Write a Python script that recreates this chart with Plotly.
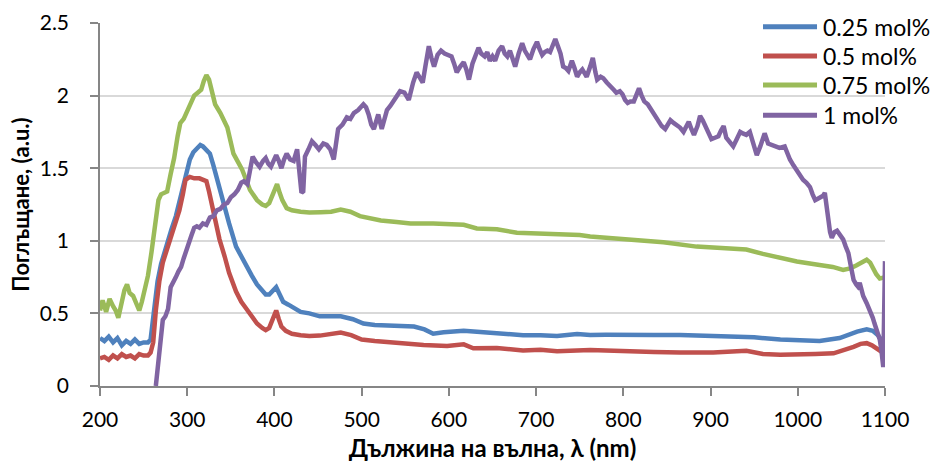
import plotly.graph_objects as go

# Absorption spectra for four dopant concentrations
series_names = ["0.25 mol%", "0.5 mol%", "0.75 mol%", "1 mol%"]
series_colors = ["#4F81BD", "#C0504D", "#9BBB59", "#8064A2"]

wl_025 = [200, 205, 210, 215, 220, 225, 230, 235, 240, 245, 250, 255, 258, 262, 266, 270, 276, 282,
          287, 291, 295, 299, 303, 307, 311, 315, 318, 322, 326, 330, 334, 338, 342, 348, 356, 362,
          368, 374, 380, 386, 390, 394, 398, 402, 406, 410, 416, 422, 430, 440, 452, 465, 476, 490,
          502, 515, 533, 550, 560, 572, 582, 594, 605, 617, 636, 659, 685, 705, 724, 747, 762, 780,
          808, 835, 865, 895, 922, 950, 980, 1000, 1025, 1048, 1060, 1068, 1079, 1086, 1092, 1096, 1100]
abs_025 = [0.33, 0.31, 0.34, 0.30, 0.33, 0.28, 0.31, 0.29, 0.32, 0.29, 0.30, 0.30, 0.32, 0.55, 0.72,
           0.84, 0.97, 1.08, 1.17, 1.26, 1.37, 1.47, 1.56, 1.61, 1.63, 1.66, 1.65, 1.63, 1.60, 1.52,
           1.43, 1.33, 1.25, 1.12, 0.96, 0.89, 0.82, 0.76, 0.70, 0.66, 0.63, 0.63, 0.66, 0.68, 0.63,
           0.58, 0.56, 0.54, 0.51, 0.50, 0.48, 0.48, 0.48, 0.46, 0.43, 0.42, 0.415, 0.41, 0.41, 0.39,
           0.36, 0.37, 0.375, 0.38, 0.372, 0.363, 0.35, 0.35, 0.345, 0.358, 0.352, 0.353, 0.356,
           0.352, 0.352, 0.345, 0.34, 0.335, 0.32, 0.315, 0.31, 0.33, 0.36, 0.375, 0.39, 0.38, 0.35,
           0.32, 0.28]

wl_05 = [200, 205, 210, 215, 220, 225, 230, 235, 240, 245, 250, 255, 258, 261, 264, 268, 272, 276,
         283, 291, 295, 298, 303, 308, 314, 318, 322, 325, 331, 337, 343, 348, 356, 362, 368, 374,
         380, 386, 390, 394, 398, 402, 405, 408, 413, 420, 430, 440, 452, 465, 476, 488, 500, 515,
         533, 550, 571, 598, 617, 628, 655, 685, 705, 724, 745, 762, 780, 808, 835, 865, 903, 941,
         960, 980, 999, 1020, 1041, 1055, 1064, 1072, 1079, 1085, 1090, 1096, 1100]
abs_05 = [0.19, 0.20, 0.18, 0.21, 0.19, 0.22, 0.20, 0.21, 0.19, 0.22, 0.21, 0.21, 0.23, 0.30, 0.52,
          0.72, 0.85, 0.93, 1.07, 1.21, 1.32, 1.42, 1.44, 1.43, 1.43, 1.42, 1.41, 1.34, 1.17, 1.01,
          0.89, 0.78, 0.65, 0.58, 0.53, 0.48, 0.43, 0.40, 0.385, 0.40, 0.47, 0.52, 0.46, 0.41, 0.38,
          0.36, 0.35, 0.345, 0.347, 0.36, 0.368, 0.35, 0.32, 0.31, 0.30, 0.29, 0.283, 0.276, 0.287,
          0.26, 0.262, 0.245, 0.25, 0.24, 0.247, 0.248, 0.245, 0.237, 0.235, 0.23, 0.23, 0.243,
          0.22, 0.215, 0.214, 0.22, 0.225, 0.25, 0.27, 0.29, 0.295, 0.28, 0.26, 0.24, 0.22]

wl_075 = [200, 203, 207, 211, 215, 218, 221, 224, 228, 231, 234, 238, 242, 245, 248, 251, 255, 259,
          263, 267, 270, 273, 277, 281, 285, 289, 292, 296, 300, 304, 308, 312, 316, 319, 322, 325,
          328, 332, 338, 346, 353, 363, 372, 380, 386, 390, 394, 398, 403, 406, 409, 414, 420, 430,
          440, 453, 465, 476, 487, 498, 510, 522, 540, 556, 582, 600, 617, 632, 655, 678, 705, 731,
          750, 762, 773, 808, 846, 884, 922, 941, 960, 980, 999, 1025, 1040, 1052, 1060, 1067, 1074,
          1079, 1083, 1086, 1090, 1094, 1100]
abs_075 = [0.52, 0.59, 0.51, 0.60, 0.55, 0.52, 0.47, 0.55, 0.66, 0.70, 0.64, 0.62, 0.57, 0.52, 0.58,
           0.66, 0.76, 0.92, 1.12, 1.28, 1.32, 1.33, 1.34, 1.46, 1.57, 1.72, 1.81, 1.84, 1.90, 1.96,
           2.00, 2.02, 2.04, 2.10, 2.14, 2.11, 2.03, 1.94, 1.88, 1.78, 1.60, 1.49, 1.35, 1.28, 1.25,
           1.24, 1.26, 1.32, 1.39, 1.33, 1.28, 1.225, 1.21, 1.20, 1.195, 1.197, 1.20, 1.215, 1.20,
           1.17, 1.155, 1.14, 1.13, 1.12, 1.12, 1.115, 1.11, 1.085, 1.08, 1.055, 1.05, 1.04, 1.04,
           1.03, 1.025, 1.007, 0.99, 0.96, 0.945, 0.94, 0.91, 0.88, 0.857, 0.834, 0.82, 0.80, 0.81,
           0.83, 0.85, 0.87, 0.85, 0.81, 0.77, 0.74, 0.75]

wl_1 = [264, 266, 268, 270, 272, 275, 278, 281, 284, 287, 290, 293, 296, 299, 302, 305, 308, 311,
        314, 318, 322, 326, 330, 334, 338, 342, 346, 350, 354, 358, 362, 365, 369, 372, 375, 379,
        383, 387, 390, 393, 396, 399, 402, 405, 408, 411, 414, 418, 422, 426, 429, 431, 433, 435,
        439, 443, 447, 451, 456, 460, 464, 468, 473, 478, 483, 487, 491, 496, 502, 505, 508, 511,
        514, 517, 519, 523, 526, 529, 533, 537, 541, 544, 549, 554, 559, 563, 567, 570, 573, 577,
        580, 583, 587, 591, 595, 599, 603, 606, 609, 613, 617, 620, 623, 627, 630, 634, 637, 641,
        644, 647, 650, 653, 657, 661, 664, 667, 670, 673, 676, 680, 684, 687, 690, 693, 697, 701,
        704, 707, 710, 713, 716, 719, 722, 725, 728, 731, 734, 737, 741, 744, 747, 750, 753, 756,
        758, 762, 765, 768, 770, 774, 777, 781, 785, 789, 792, 796, 799, 802, 805, 808, 812, 815,
        818, 821, 824, 828, 831, 834, 837, 840, 844, 848, 851, 854, 858, 861, 865, 869, 872, 875,
        878, 881, 885, 888, 891, 894, 897, 901, 905, 909, 912, 915, 918, 922, 926, 930, 934, 937,
        941, 945, 949, 953, 957, 962, 966, 970, 974, 979, 985, 988, 991, 995, 999, 1003, 1006,
        1010, 1014, 1017, 1020, 1023, 1026, 1029, 1031, 1033, 1035, 1037, 1039, 1042, 1045, 1048,
        1052, 1055, 1058, 1061, 1064, 1067, 1069, 1071, 1073, 1075, 1079, 1083, 1086, 1088, 1091,
        1094, 1096, 1098, 1100]
abs_1 = [0.0, 0.12, 0.25, 0.38, 0.455, 0.48, 0.53, 0.68, 0.71, 0.75, 0.79, 0.82, 0.88, 0.94, 0.99,
         1.04, 1.09, 1.10, 1.09, 1.12, 1.11, 1.16, 1.17, 1.21, 1.22, 1.25, 1.26, 1.30, 1.32, 1.35,
         1.40, 1.41, 1.39, 1.50, 1.58, 1.54, 1.51, 1.55, 1.57, 1.53, 1.51, 1.55, 1.59, 1.55, 1.50,
         1.56, 1.60, 1.56, 1.55, 1.63, 1.40, 1.33, 1.34, 1.58, 1.63, 1.685, 1.66, 1.63, 1.67, 1.66,
         1.63, 1.56, 1.77, 1.80, 1.85, 1.84, 1.88, 1.90, 1.94, 1.92, 1.87, 1.80, 1.77, 1.84, 1.87,
         1.77, 1.84, 1.90, 1.93, 1.97, 2.00, 2.03, 2.02, 1.97, 2.09, 2.16, 2.12, 2.09, 2.20, 2.34,
         2.26, 2.20, 2.28, 2.31, 2.29, 2.28, 2.27, 2.22, 2.16, 2.20, 2.23, 2.18, 2.11, 2.22, 2.27,
         2.33, 2.29, 2.27, 2.30, 2.24, 2.27, 2.24, 2.31, 2.34, 2.29, 2.27, 2.31, 2.26, 2.20, 2.29,
         2.36, 2.31, 2.28, 2.25, 2.32, 2.37, 2.32, 2.28, 2.30, 2.31, 2.30, 2.35, 2.39, 2.34, 2.29,
         2.20, 2.19, 2.17, 2.24, 2.19, 2.13, 2.16, 2.18, 2.15, 2.13, 2.20, 2.26, 2.16, 2.11, 2.13,
         2.12, 2.09, 2.06, 2.04, 2.02, 2.03, 2.01, 1.97, 1.95, 1.96, 1.96, 2.00, 2.05, 2.00, 1.96,
         1.94, 1.91, 1.88, 1.85, 1.82, 1.79, 1.77, 1.80, 1.83, 1.81, 1.80, 1.78, 1.75, 1.79, 1.82,
         1.77, 1.73, 1.79, 1.86, 1.83, 1.79, 1.75, 1.70, 1.71, 1.72, 1.76, 1.79, 1.71, 1.68, 1.65,
         1.70, 1.75, 1.74, 1.73, 1.75, 1.67, 1.59, 1.65, 1.74, 1.67, 1.66, 1.65, 1.64, 1.65, 1.60,
         1.56, 1.52, 1.48, 1.45, 1.42, 1.40, 1.37, 1.32, 1.28, 1.29, 1.30, 1.31, 1.33, 1.22, 1.14,
         1.06, 1.02, 1.06, 1.07, 1.04, 1.01, 0.96, 0.915, 0.82, 0.73, 0.70, 0.685, 0.71, 0.66, 0.62,
         0.57, 0.52, 0.47, 0.43, 0.38, 0.32, 0.24, 0.13, 0.86]

wavelengths = [wl_025, wl_05, wl_075, wl_1]
absorbance = [abs_025, abs_05, abs_075, abs_1]

x_ticks = [200, 300, 400, 500, 600, 700, 800, 900, 1000, 1100]
y_ticks = [0, 0.5, 1, 1.5, 2, 2.5]

FONT = "Lato"
axis_grey = "#868686"

fig = go.Figure()
for name, color, xs, ys in zip(series_names, series_colors, wavelengths, absorbance):
    fig.add_trace(go.Scatter(x=xs, y=ys, name=name, mode="lines",
                             line=dict(color=color, width=4.5), showlegend=False))

# Legend box: white panel over the grid, line samples and labels
shapes = [dict(type="rect", xref="paper", yref="paper", x0=0.8318, x1=1.07, y0=0.713, y1=1.04,
               fillcolor="white", line=dict(width=0), layer="between")]
annotations = []
legend_rows = [0.990, 0.909, 0.829, 0.746]
for name, color, yr in zip(series_names, series_colors, legend_rows):
    shapes.append(dict(type="line", xref="paper", yref="paper", x0=0.8446, x1=0.9134, y0=yr, y1=yr,
                       line=dict(color=color, width=5), layer="above"))
    annotations.append(dict(xref="paper", yref="paper", x=0.9185, y=yr, text=name, showarrow=False,
                            xanchor="left", yanchor="middle",
                            font=dict(family=FONT, size=23, color="#000000")))

fig.update_layout(
    width=937, height=466,
    margin=dict(l=100, r=52, t=23, b=80),
    paper_bgcolor="white", plot_bgcolor="white",
    font=dict(family=FONT, size=20, color="#000000"),
    shapes=shapes, annotations=annotations,
    xaxis=dict(range=[200, 1100], tickvals=x_ticks, ticktext=[str(v) for v in x_ticks],
               showgrid=False, zeroline=False, showline=True, linecolor=axis_grey, linewidth=1.5,
               ticks="outside", ticklen=8, tickcolor=axis_grey, tickwidth=1.5,
               ticklabelstandoff=6, tickfont=dict(size=21), automargin=False,
               title=dict(text="<b>Дължина на вълна, λ (nm)</b>", standoff=10,
                          font=dict(family=FONT, size=24, color="#000000"))),
    yaxis=dict(range=[0, 2.5], tickvals=y_ticks, ticktext=["0", "0.5", "1", "1.5", "2", "2.5"],
               showgrid=True, gridcolor="#D9D9D9", gridwidth=1.5, zeroline=False,
               showline=True, linecolor=axis_grey, linewidth=1.5,
               ticks="outside", ticklen=8, tickcolor=axis_grey, tickwidth=1.5,
               ticklabelstandoff=17, tickfont=dict(size=21), automargin=False,
               title=dict(text="<b>Поглъщане, (a.u.)</b>", standoff=4,
                          font=dict(family=FONT, size=22, color="#000000"))),
)

fig.write_html("out.html")
